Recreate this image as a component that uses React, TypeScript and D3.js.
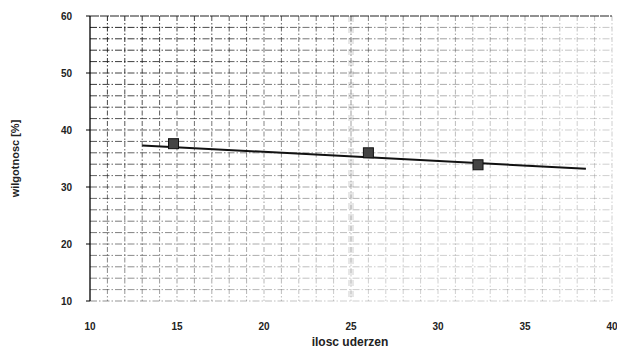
import React from "react";
import * as d3 from "d3";

const pointsX = [14.8, 26.0, 32.3];
const pointsY = [37.6, 36.0, 33.9];
const trendX = [13, 38.5];
const trendY = [37.3, 33.2];
const xTicks = [10, 15, 20, 25, 30, 35, 40];
const yTicks = [10, 20, 30, 40, 50, 60];
const xLabel = "ilosc uderzen";
const yLabel = "wilgotnosc [%]";

const W = 617, H = 351;
const L = 90, R = 612, T = 16, B = 301;

export default function App() {
  const x = d3.scaleLinear().domain([10, 40]).range([L, R]);
  const y = d3.scaleLinear().domain([10, 60]).range([B, T]);
  const vGrid = d3.range(11, 41, 1);
  const hGrid = d3.range(10, 60, 2);
  const line = d3.line<number>().x((d, i) => x(trendX[i])).y((d, i) => y(trendY[i]));
  const font = "'Liberation Sans', Arial, sans-serif";
  return (
    <svg width={W} height={H} style={{ position: "absolute", left: 0, top: 0, background: "#fff" }}>
      <defs>
        <linearGradient id="gg" gradientUnits="userSpaceOnUse" x1={L} y1={T} x2={L + 260} y2={B}>
          <stop offset="0" stopColor="#111" stopOpacity={0.95} />
          <stop offset="0.45" stopColor="#333" stopOpacity={0.65} />
          <stop offset="1" stopColor="#777" stopOpacity={0.35} />
        </linearGradient>
      </defs>
      <rect x={0} y={0} width={W} height={H} fill="#fff" />
      <line x1={x(25)} x2={x(25)} y1={T} y2={B} stroke="#ddd" strokeWidth={6} strokeDasharray="6,5" opacity={0.7} />
      {hGrid.map((v) => (
        <line key={"h" + v} x1={L} x2={R} y1={y(v)} y2={y(v)} stroke="url(#gg)" strokeWidth={1} strokeDasharray="7,2,1.5,2" />
      ))}
      {vGrid.map((v) => (
        <line key={"v" + v} x1={x(v)} x2={x(v)} y1={T} y2={B} stroke="url(#gg)" strokeWidth={1} strokeDasharray="5,2,1.5,2" />
      ))}
      <line x1={L} x2={R} y1={T} y2={T} stroke="#222" strokeWidth={1.2} strokeDasharray="9,1" />
      <line x1={L} x2={L} y1={T} y2={B} stroke="#000" strokeWidth={1.3} />
      {yTicks.map((v) => (
        <line key={"yt" + v} x1={L - 4} x2={L} y1={y(v)} y2={y(v)} stroke="#000" strokeWidth={1} />
      ))}
      {yTicks.map((v) => (
        <text key={"yl" + v} x={72} y={y(v) + 4} textAnchor="end" fontFamily={font} fontSize={10} fontWeight="bold" fill="#222">{v}</text>
      ))}
      {xTicks.map((v) => (
        <text key={"xl" + v} x={x(v)} y={330} textAnchor="middle" fontFamily={font} fontSize={10} fontWeight="bold" fill="#222">{v}</text>
      ))}
      <text x={350} y={346} textAnchor="middle" fontFamily={font} fontSize={12} fontWeight="bold" fill="#222">{xLabel}</text>
      <text transform={`translate(19,${(T + B) / 2}) rotate(-90)`} textAnchor="middle" fontFamily={font} fontSize={11} fontWeight="bold" fill="#222">{yLabel}</text>
      <path d={line(trendX) || ""} fill="none" stroke="#111" strokeWidth={2} />
      {pointsX.map((v, i) => (
        <rect key={"p" + i} x={x(v) - 5} y={y(pointsY[i]) - 5} width={10} height={10} fill="#444" stroke="#111" strokeWidth={1} />
      ))}
    </svg>
  );
}
